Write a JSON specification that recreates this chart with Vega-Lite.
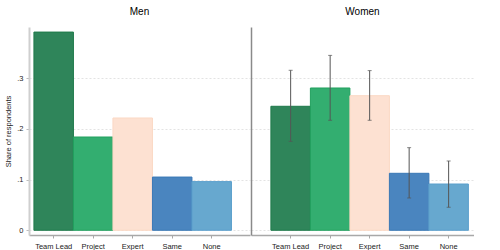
{
  "$schema": "https://vega.github.io/schema/vega-lite/v6.json",
  "padding": {"left": 4, "top": 7, "right": 0, "bottom": 0},
  "spacing": 1,
  "background": "white",
  "config": {
    "font": "Liberation Sans",
    "view": {"stroke": null},
    "title": {"fontSize": 10, "fontWeight": "normal", "color": "#000", "offset": 10}
  },
  "datasets": {
    "d": [
      {"gender": "Men", "cat": "Team Lead", "share": 0.391},
      {"gender": "Men", "cat": "Project", "share": 0.184},
      {"gender": "Men", "cat": "Expert", "share": 0.2215},
      {"gender": "Men", "cat": "Same", "share": 0.105},
      {"gender": "Men", "cat": "None", "share": 0.096},
      {"gender": "Women", "cat": "Team Lead", "share": 0.2446, "lo": 0.1755, "hi": 0.3156},
      {"gender": "Women", "cat": "Project", "share": 0.2807, "lo": 0.217, "hi": 0.345},
      {"gender": "Women", "cat": "Expert", "share": 0.2655, "lo": 0.217, "hi": 0.315},
      {"gender": "Women", "cat": "Same", "share": 0.1124, "lo": 0.0637, "hi": 0.163},
      {"gender": "Women", "cat": "None", "share": 0.0913, "lo": 0.0454, "hi": 0.1367}
    ]
  },
  "hconcat": [
    {
      "title": {"text": "Men", "fontWeight": "normal", "fontSize": 10, "offset": 10},
      "width": 221,
      "height": 208,
      "data": {"name": "d"},
      "transform": [{"filter": "datum.gender == 'Men'"}],
      "mark": {"type": "bar", "strokeWidth": 1},
      "encoding": {
        "x": {
          "field": "cat", "type": "nominal", "sort": null,
          "scale": {"paddingInner": 0, "paddingOuter": 0.297, "align": 0.21},
          "axis": {"title": null, "labelAngle": 0, "labelFontSize": 7.5, "labelColor": "#222", "domainColor": "#a8a8a8", "domainWidth": 1.5, "tickColor": "#a8a8a8", "tickSize": 3, "labelPadding": 4}
        },
        "y": {
          "field": "share", "type": "quantitative",
          "scale": {"domain": [-0.0093, 0.401], "nice": false, "zero": false},
          "axis": {
            "title": "Share of respondents", "titleFontSize": 7.5, "titleFontWeight": "normal", "titleColor": "#222", "titlePadding": 4,
            "values": [0, 0.1, 0.2, 0.3],
            "labelExpr": "datum.value == 0 ? '0' : replace(format(datum.value, '.1f'), '0.', '.')",
            "labelFontSize": 7.5, "labelColor": "#222", "labelPadding": 3,
            "tickSize": 3, "tickColor": "#bbb",
            "domainColor": "#cfcfcf", "domainWidth": 2,
            "grid": true, "gridColor": "#e3e3e3", "gridDash": [2, 2], "gridWidth": 1
          }
        },
        "color": {
          "field": "cat", "type": "nominal", "legend": null,
          "scale": {"domain": ["Team Lead", "Project", "Expert", "Same", "None"], "range": ["#2f855a", "#33ae70", "#fde1d2", "#4a85bf", "#67a8cf"]}
        },
        "stroke": {
          "field": "cat", "type": "nominal", "legend": null,
          "scale": {"domain": ["Team Lead", "Project", "Expert", "Same", "None"], "range": ["#1f7a4a", "#22a05f", "#fbd8c4", "#3a78b6", "#5a9fcc"]}
        }
      }
    },
    {
      "title": {"text": "Women", "fontWeight": "normal", "fontSize": 10, "offset": 10},
      "width": 223,
      "height": 208,
      "data": {"name": "d"},
      "transform": [{"filter": "datum.gender == 'Women'"}],
      "encoding": {
        "x": {
          "field": "cat", "type": "nominal", "sort": null,
          "scale": {"paddingInner": 0, "paddingOuter": 0.323, "align": 0.78},
          "axis": {"title": null, "labelAngle": 0, "labelFontSize": 7.5, "labelColor": "#222", "domainColor": "#a8a8a8", "domainWidth": 1.5, "tickColor": "#a8a8a8", "tickSize": 3, "labelPadding": 4}
        }
      },
      "layer": [
        {
          "mark": {"type": "bar", "strokeWidth": 1},
          "encoding": {
            "y": {
              "field": "share", "type": "quantitative",
              "scale": {"domain": [-0.0093, 0.401], "nice": false, "zero": false},
              "axis": {
                "title": null, "labels": false, "ticks": false,
                "values": [0, 0.1, 0.2, 0.3],
                "domainColor": "#8a8a8a", "domainWidth": 1.5,
                "grid": true, "gridColor": "#e3e3e3", "gridDash": [2, 2], "gridWidth": 1
              }
            },
            "color": {
              "field": "cat", "type": "nominal", "legend": null,
              "scale": {"domain": ["Team Lead", "Project", "Expert", "Same", "None"], "range": ["#2f855a", "#33ae70", "#fde1d2", "#4a85bf", "#67a8cf"]}
            },
            "stroke": {
              "field": "cat", "type": "nominal", "legend": null,
              "scale": {"domain": ["Team Lead", "Project", "Expert", "Same", "None"], "range": ["#1f7a4a", "#22a05f", "#fbd8c4", "#3a78b6", "#5a9fcc"]}
            }
          }
        },
        {
          "mark": {"type": "rule", "color": "#555", "strokeWidth": 1},
          "encoding": {
            "y": {"field": "lo", "type": "quantitative"},
            "y2": {"field": "hi"}
          }
        },
        {
          "mark": {"type": "tick", "color": "#555", "size": 4, "thickness": 1, "orient": "horizontal"},
          "encoding": {"y": {"field": "lo", "type": "quantitative"}}
        },
        {
          "mark": {"type": "tick", "color": "#555", "size": 4, "thickness": 1, "orient": "horizontal"},
          "encoding": {"y": {"field": "hi", "type": "quantitative"}}
        }
      ]
    }
  ]
}
